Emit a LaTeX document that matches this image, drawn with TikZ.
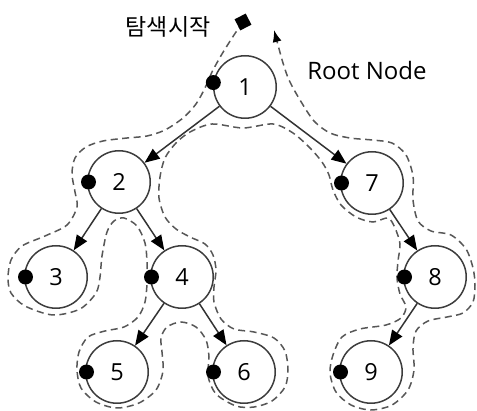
\documentclass[tikz,border=0pt]{standalone}
\usepackage{fontspec}
\setmainfont{Open Sans}
\newfontfamily\krfont{Noto Sans CJK KR}
\usetikzlibrary{arrows.meta}

\begin{document}
\begin{tikzpicture}[x=1pt,y=-1pt,
  treenode/.style={circle, draw=black!76, line width=1.5pt, minimum size=62.5pt,
    inner sep=0pt, font=\fontsize{23.5}{23.5}\selectfont},
  hop/.style={draw=black!80, line width=1.5pt, -{Triangle[length=15pt,width=12pt,color=black]}},
  visitdot/.style={fill=black},
  tour/.style={draw=black!66, line width=1.5pt, dash pattern=on 7pt off 4.5pt},
  caption/.style={inner sep=0pt},
]
\useasboundingbox (0,0) rectangle (477,411);

% tree nodes
\node[treenode] (n1) at (245,87) {1};
\node[treenode] (n2) at (119,182) {2};
\node[treenode] (n7) at (372,183) {7};
\node[treenode] (n3) at (56,277) {3};
\node[treenode] (n4) at (182,277) {4};
\node[treenode] (n8) at (435,277) {8};
\node[treenode] (n5) at (117,372) {5};
\node[treenode] (n6) at (244,372) {6};
\node[treenode] (n9) at (371,372) {9};

% start marker of the traversal
\coordinate (start) at (243,22);

% traversal contour around the tree
\draw[tour, -{Latex[length=12pt,width=9pt,color=black]}] plot[smooth, tension=0.5] coordinates {
  (start) (234,35) (222,54) (212,72) (205,88) (196,104) (183,118) (165,130)
  (147,136) (127,138) (103,141) (86,147) (75,158) (72,174) (75,192) (77,207)
  (67,225) (45,236) (22,246) (11,260) (8,278) (11,293) (25,306) (53,315)
  (80,309) (96,293) (100,277) (102,256) (107,232) (114,221) (124,218) (137,226)
  (145,243) (147,262) (147,283) (145,302) (138,317) (124,327) (105,331) (88,337)
  (79,352) (77,370) (81,388) (96,402) (117,408) (139,403) (156,390) (163,371)
  (162,352) (161,338) (167,327) (181,322) (196,327) (206,340) (209,357) (208,376)
  (216,394) (236,406) (254,407) (272,401) (285,387) (288,370) (285,351) (274,338)
  (254,332) (234,329) (221,319) (214,302) (214,287) (216,270) (213,255) (205,244)
  (190,237) (176,229) (165,217) (159,198) (160,177) (165,158) (176,143) (190,132)
  (212,124) (243,128) (273,124) (293,133) (310,148) (322,162) (329,175) (333,190)
  (341,205) (356,217) (373,222) (388,218) (395,228) (400,244) (398,261) (397,278)
  (400,294) (406,307) (401,318) (386,325) (360,329) (342,337) (333,355) (330,373)
  (336,392) (351,405) (371,410) (392,405) (408,390) (414,370) (413,348) (416,331)
  (428,321) (447,317) (463,313) (473,302) (475,285) (473,268) (466,249) (451,235)
  (431,231) (418,221) (413,200) (413,176) (406,155) (392,143) (372,140) (350,138)
  (330,133) (314,121) (300,100) (289,80) (283,63) (278,45) (274,30)
};

\node[fill=black, minimum size=12.5pt, inner sep=0pt, rotate=27] (startmark) at (start) {};

% tree edges
\draw[hop] (n1) -- (n2);
\draw[hop] (n1) -- (n7);
\draw[hop] (n2) -- (n3);
\draw[hop] (n2) -- (n4);
\draw[hop] (n4) -- (n5);
\draw[hop] (n4) -- (n6);
\draw[hop] (n7) -- (n8);
\draw[hop] (n8) -- (n9);

% visit markers
\fill[visitdot] (n1.172) circle (7.5pt);
\foreach \n in {n2,n7,n3,n4,n8,n5,n6,n9}
  \fill[visitdot] ([xshift=1.5pt]\n.west) circle (7.5pt);

% labels
\node[caption, font=\krfont\fontsize{23}{23}\selectfont] (startlabel) at (168,27) {탐색시작};
\node[caption, font=\fontsize{24}{24}\selectfont] (rootlabel) at (367,71) {Root Node};
\end{tikzpicture}
\end{document}
